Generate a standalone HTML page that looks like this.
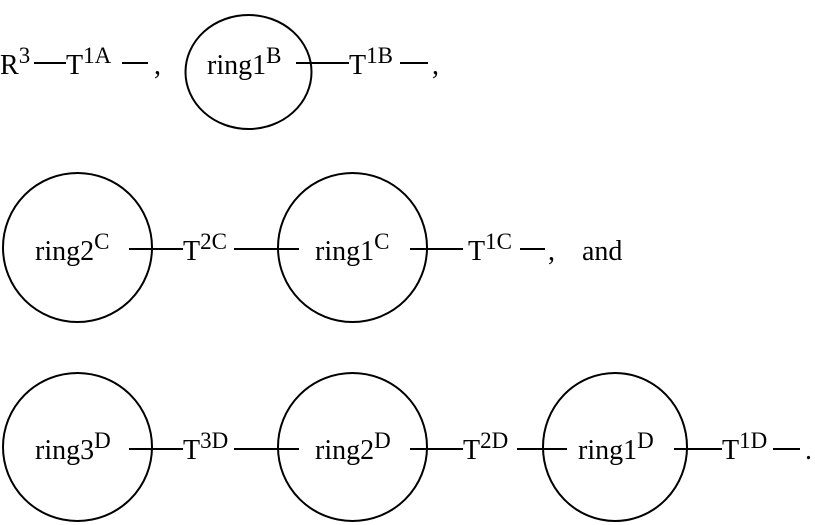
<!DOCTYPE html>
<html><head><meta charset="utf-8"><style>
html,body{margin:0;padding:0;background:#fff;}
svg{display:block;}
text{font-family:"Liberation Serif",serif;font-size:28px;fill:#000;}
tspan.s{font-size:23px;}
</style></head><body>
<svg width="815" height="525" viewBox="0 0 815 525" xmlns="http://www.w3.org/2000/svg">
<g stroke="#000" stroke-width="2" fill="none">
<ellipse cx="248.5" cy="72" rx="63" ry="57"/>
<ellipse cx="77.5" cy="247.5" rx="74.5" ry="74.5"/>
<ellipse cx="352.5" cy="247.5" rx="74.5" ry="74.5"/>
<ellipse cx="77.5" cy="447" rx="74.5" ry="74"/>
<ellipse cx="352.5" cy="447" rx="74.5" ry="74"/>
<ellipse cx="615" cy="447" rx="72" ry="74"/>
<line x1="34" y1="63" x2="66" y2="63"/>
<line x1="122" y1="63" x2="148" y2="63"/>
<line x1="296" y1="63" x2="349" y2="63"/>
<line x1="400" y1="63" x2="428" y2="63"/>
<line x1="129" y1="249" x2="183" y2="249"/>
<line x1="234" y1="249" x2="299" y2="249"/>
<line x1="410" y1="249" x2="463" y2="249"/>
<line x1="520" y1="249" x2="545" y2="249"/>
<line x1="129" y1="449" x2="183" y2="449"/>
<line x1="234" y1="449" x2="299" y2="449"/>
<line x1="410" y1="449" x2="463" y2="449"/>
<line x1="517" y1="449" x2="567" y2="449"/>
<line x1="674" y1="449" x2="722" y2="449"/>
<line x1="773" y1="449" x2="800" y2="449"/>
</g>
<text x="0" y="74">R<tspan class="s" dy="-11">3</tspan></text>
<text x="66" y="74">T<tspan class="s" dy="-11">1A</tspan></text>
<text x="154" y="74">,</text>
<text x="207" y="74">ring1<tspan class="s" dy="-11">B</tspan></text>
<text x="349" y="74">T<tspan class="s" dy="-11">1B</tspan></text>
<text x="432" y="74">,</text>

<text x="35" y="260">ring2<tspan class="s" dy="-11">C</tspan></text>
<text x="183" y="260">T<tspan class="s" dy="-11">2C</tspan></text>
<text x="315" y="260">ring1<tspan class="s" dy="-11">C</tspan></text>
<text x="468" y="260">T<tspan class="s" dy="-11">1C</tspan></text>
<text x="548" y="260">,</text>
<text x="582" y="260">and</text>

<text x="35" y="459">ring3<tspan class="s" dy="-11">D</tspan></text>
<text x="183" y="459">T<tspan class="s" dy="-11">3D</tspan></text>
<text x="315" y="459">ring2<tspan class="s" dy="-11">D</tspan></text>
<text x="463" y="459">T<tspan class="s" dy="-11">2D</tspan></text>
<text x="578" y="459">ring1<tspan class="s" dy="-11">D</tspan></text>
<text x="722" y="459">T<tspan class="s" dy="-11">1D</tspan></text>
<text x="805" y="459">.</text>
</svg>
</body></html>
